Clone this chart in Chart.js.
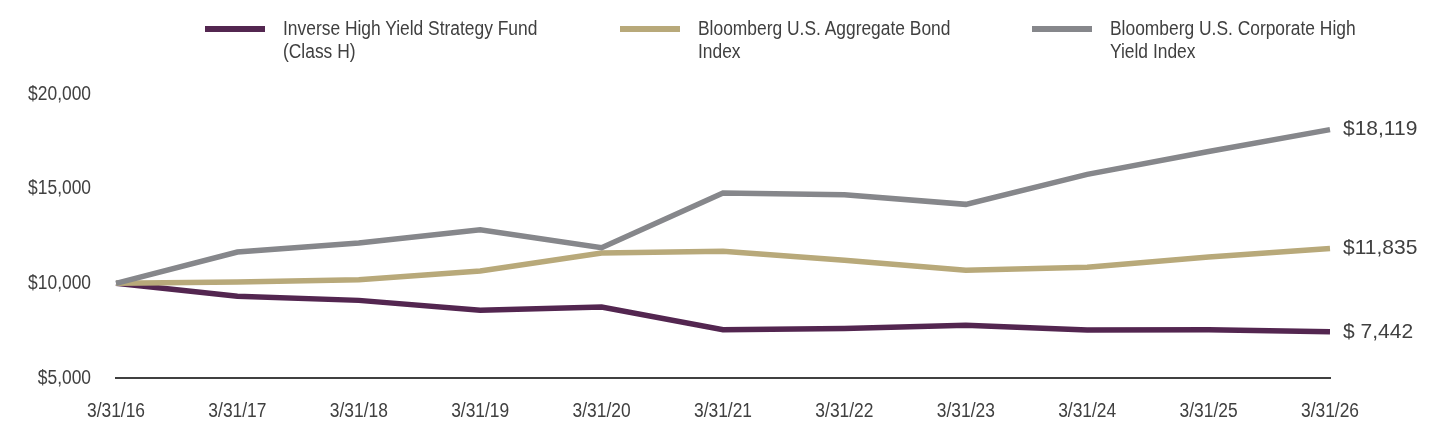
<!DOCTYPE html>
<html>
<head>
<meta charset="utf-8">
<script src="https://cdn.jsdelivr.net/npm/chart.js@4"></script>
<style>
  html, body { margin: 0; padding: 0; background: #fff; }
  #wrap { position: relative; width: 1440px; height: 444px; }
  canvas { position: absolute; left: 0; top: 0; }
  .leg { position: absolute; top: 17px; font-family: "Liberation Sans", Arial, sans-serif;
         font-size: 20px; line-height: 23px; color: #404040; }
  .leg .sw { position: absolute; left: 0; top: 9px; width: 60px; height: 6px; }
  .leg .tx { position: absolute; left: 78px; top: 0; white-space: nowrap;
             transform: scaleX(0.87); transform-origin: 0 0; }
</style>
</head>
<body>
<div id="wrap">
  <canvas id="chart" width="1440" height="444"></canvas>
  <div id="legend"></div>
</div>
<script>
const categories = ["3/31/16", "3/31/17", "3/31/18", "3/31/19", "3/31/20", "3/31/21", "3/31/22", "3/31/23", "3/31/24", "3/31/25", "3/31/26"];
const fundValues = [10000, 9314, 9100, 8574, 8750, 7555, 7610, 7783, 7540, 7555, 7442];
const aggValues = [10000, 10070, 10195, 10650, 11600, 11690, 11215, 10690, 10845, 11390, 11835];
const hyValues = [10000, 11650, 12128, 12835, 11885, 14768, 14683, 14171, 15755, 16960, 18119];
const seriesNames = [["Inverse High Yield Strategy Fund", "(Class H)"], ["Bloomberg U.S. Aggregate Bond", "Index"], ["Bloomberg U.S. Corporate High", "Yield Index"]];
const endLabels = ["$ 7,442", "$11,835", "$18,119"];
const yTicks = [5000, 10000, 15000, 20000];
const colors = ["#532650", "#b8a97a", "#86878b"];

// ===== Legend (HTML) =====
const legendX = [205, 620, 1032];
const legend = document.getElementById("legend");
seriesNames.forEach((lines, i) => {
  const item = document.createElement("div");
  item.className = "leg";
  item.style.left = legendX[i] + "px";
  item.innerHTML = `<div class="sw" style="background:${colors[i]}"></div><div class="tx">${lines.join("<br>")}</div>`;
  legend.appendChild(item);
});

// ===== Narrow tick labels, placed by the chart's own scales =====
function narrowText(ctx, text, x, y, align) {
  const sx = 0.87;
  ctx.save();
  ctx.translate(x, y);
  ctx.scale(sx, 1);
  ctx.textAlign = align;
  ctx.fillText(text, 0, 0);
  ctx.restore();
}

const tickLabelPlugin = {
  id: "tickLabels",
  afterDraw(chart) {
    const ctx = chart.ctx;
    const { x, y } = chart.scales;
    ctx.save();
    ctx.font = "20px 'Liberation Sans', Arial, sans-serif";
    ctx.fillStyle = "#404040";
    ctx.textBaseline = "middle";
    categories.forEach((c, i) => narrowText(ctx, c, x.getPixelForTick(i), 411, "center"));
    yTicks.forEach(v => narrowText(ctx, "$" + v.toLocaleString("en-US"), 91, y.getPixelForValue(v), "right"));
    ctx.restore();
  }
};

// ===== End value labels =====
const endLabelPlugin = {
  id: "endLabels",
  afterDatasetsDraw(chart) {
    const ctx = chart.ctx;
    ctx.save();
    ctx.font = "21px 'Liberation Sans', Arial, sans-serif";
    ctx.fillStyle = "#404040";
    ctx.textBaseline = "middle";
    chart.data.datasets.forEach((ds, i) => {
      const meta = chart.getDatasetMeta(i);
      const pt = meta.data[meta.data.length - 1];
      ctx.fillText(endLabels[ds.seriesIndex], chart.chartArea.right + 13, pt.y);
    });
    ctx.restore();
  }
};

// draw the fund line on top
const datasets = [fundValues, aggValues, hyValues].map((vals, i) => ({
  label: seriesNames[i].join(" "),
  data: vals,
  seriesIndex: i,
  borderColor: colors[i],
  borderWidth: 5.5,
  pointRadius: 0,
  tension: 0,
  fill: false
})).reverse();

new Chart(document.getElementById("chart"), {
  type: "line",
  data: { labels: categories, datasets: datasets },
  options: {
    responsive: false,
    animation: false,
    layout: { padding: { top: 94, right: 110, left: 0, bottom: 0 } },
    plugins: { legend: { display: false }, tooltip: { enabled: false } },
    scales: {
      x: {
        offset: false,
        grid: { display: false, drawTicks: false },
        border: { display: true, color: "#404040", width: 2 },
        ticks: { display: false },
        afterFit: (s) => { s.height = 66; }
      },
      y: {
        min: 5000,
        max: 20000,
        afterBuildTicks: (s) => { s.ticks = yTicks.map(v => ({ value: v })); },
        grid: { display: false, drawTicks: false },
        border: { display: false },
        ticks: { display: false },
        afterFit: (s) => { s.width = 116; }
      }
    }
  },
  plugins: [tickLabelPlugin, endLabelPlugin]
});
</script>
</body>
</html>
